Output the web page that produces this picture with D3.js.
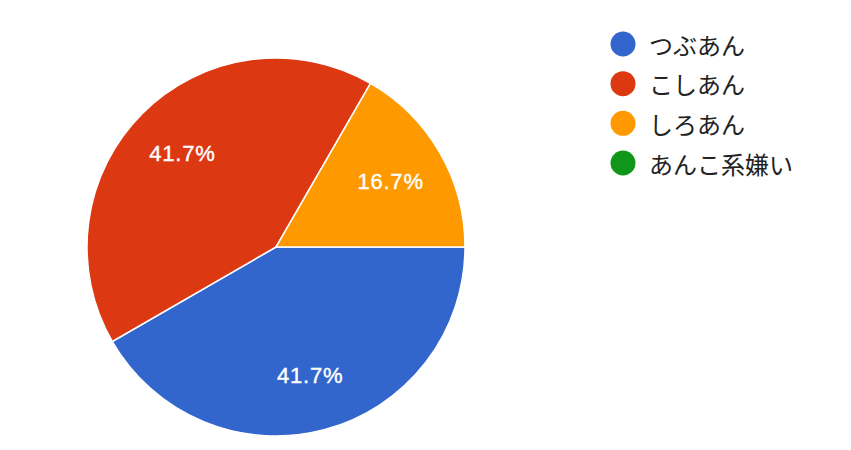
<!DOCTYPE html>
<html><head><meta charset="utf-8">
<script src="https://cdn.jsdelivr.net/npm/d3@7"></script>
<style>html,body{margin:0;padding:0;background:#fff;}</style>
</head><body>
<script>
const categories = ["つぶあん", "こしあん", "しろあん", "あんこ系嫌い"];
const values = [5, 5, 2, 0];
const colors = ["#3366CC", "#DC3912", "#FF9900", "#109618"];

const W = 851, H = 450;
const cx = 276, cy = 247, R = 189;

const svg = d3.select("body").append("svg").attr("width", W).attr("height", H);
const total = d3.sum(values);
const data = categories.map((c, i) => ({cat: c, value: values[i], color: colors[i]}));

const pie = d3.pie().value(d => d.value).sort(null)
  .startAngle(Math.PI / 2).endAngle(Math.PI / 2 + 2 * Math.PI);
const arcs = pie(data);
const arc = d3.arc().innerRadius(0).outerRadius(R);
const labelArc = d3.arc().innerRadius(R * 0.7).outerRadius(R * 0.7);

const g = svg.append("g").attr("transform", `translate(${cx},${cy})`);
g.selectAll("path").data(arcs.filter(d => d.data.value > 0)).join("path")
  .attr("d", arc).attr("fill", d => d.data.color)
  .attr("stroke", "#fff").attr("stroke-width", 1.5);

const fmt = d3.format(".1%");
const fs = 22;
g.selectAll("text").data(arcs.filter(d => d.data.value > 0)).join("text")
  .attr("transform", d => { const [x, y] = labelArc.centroid(d); return `translate(${x},${y + fs * 0.36})`; })
  .attr("text-anchor", "middle")
  .attr("fill", "#fff").attr("stroke", "#fff").attr("stroke-width", 0.4)
  .attr("font-family", "'Liberation Sans', Arial, sans-serif")
  .attr("font-size", fs).attr("letter-spacing", 0.8)
  .text(d => fmt(d.data.value / total));

const legend = svg.append("g").attr("transform", "translate(623,44)");
const y = d3.scalePoint().domain(categories).range([0, 119]);
const li = legend.selectAll("g").data(data).join("g")
  .attr("transform", d => `translate(0,${y(d.cat)})`);
li.append("circle").attr("r", 12.5).attr("fill", d => d.color);
li.append("text").attr("x", 26).attr("dominant-baseline", "central")
  .attr("font-family", "'Noto Sans CJK JP', sans-serif").attr("font-size", 24)
  .attr("fill", "#222").text(d => d.cat);
</script>
</body></html>
